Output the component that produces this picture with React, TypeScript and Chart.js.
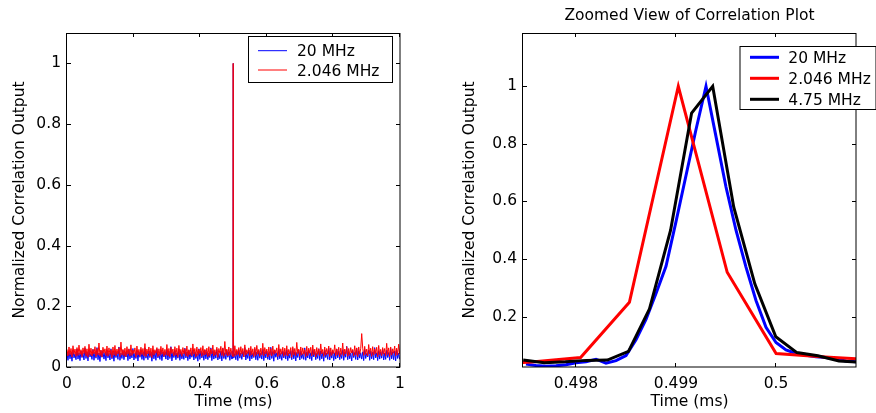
import { useEffect, useRef } from "react";
import { Chart, registerables } from "chart.js";

Chart.register(...registerables);

const FONT_FAMILY = "'DejaVu Sans', sans-serif";
const FONT_SIZE = 15.5;

// ---------- Labels ----------
const LABEL_20 = "20 MHz";
const LABEL_2046 = "2.046 MHz";
const LABEL_475 = "4.75 MHz";
const X_TITLE = "Time (ms)";
const Y_TITLE = "Normalized Correlation Output";
const RIGHT_TITLE = "Zoomed View of Correlation Plot";

// ---------- Axis ticks / ranges ----------
const LEFT_X_TICKS = [0, 0.2, 0.4, 0.6, 0.8, 1];
const LEFT_Y_TICKS = [0, 0.2, 0.4, 0.6, 0.8, 1];
const LEFT_X_RANGE = [0, 1];
const LEFT_Y_RANGE = [0, 1.1];
const RIGHT_X_TICKS = [0.498, 0.499, 0.5];
const RIGHT_Y_TICKS = [0.2, 0.4, 0.6, 0.8, 1];
const RIGHT_X_RANGE = [0.49747, 0.5008];
const RIGHT_Y_RANGE = [0.025, 1.185];

// ---------- Zoomed peak data (ms, normalized) ----------
const BLUE_ZOOM_T = [
  0.4975, 0.4976, 0.4977, 0.4978, 0.4979, 0.498, 0.4981, 0.4982, 0.4983, 0.4984,
  0.4985, 0.4986, 0.4987, 0.4988, 0.4989, 0.499, 0.4991, 0.4992, 0.4993, 0.4994,
  0.4995, 0.4996, 0.4997, 0.4998, 0.4999, 0.5, 0.5001, 0.5002, 0.5003, 0.5004,
  0.5005, 0.5006, 0.5007, 0.5008,
];
const BLUE_ZOOM_V = [
  0.035, 0.03, 0.028, 0.029, 0.033, 0.04, 0.043, 0.052, 0.038, 0.047,
  0.065, 0.12, 0.19, 0.28, 0.375, 0.53, 0.69, 0.85, 1.0, 0.825,
  0.65, 0.5, 0.372, 0.256, 0.163, 0.11, 0.084, 0.072, 0.066, 0.061,
  0.058, 0.052, 0.046, 0.043,
];

const RED_ZOOM_T = [0.497068, 0.497557, 0.498046, 0.498534, 0.499023, 0.499512, 0.500001, 0.50049, 0.500978];
const RED_ZOOM_V = [0.035, 0.042, 0.058, 0.25, 1.0, 0.354, 0.072, 0.06, 0.05];

const BLACK_ZOOM_T = [
  0.497472, 0.497683, 0.497893, 0.498104, 0.498314, 0.498525, 0.498735, 0.498946, 0.499156,
  0.499367, 0.499577, 0.499788, 0.499998, 0.500209, 0.500419, 0.50063, 0.50084,
];
const BLACK_ZOOM_V = [
  0.049, 0.04, 0.043, 0.048, 0.049, 0.079, 0.227, 0.5, 0.907,
  1.0, 0.581, 0.314, 0.13, 0.075, 0.064, 0.046, 0.041,
];

// ---------- Full-range noise floor (sampled every 0.003 ms) ----------
const NOISE_T_START = 0;
const NOISE_T_STEP = 0.003;
const RED_NOISE_V = [
  0.058, 0.036, 0.066, 0.04, 0.061, 0.033, 0.07, 0.042, 0.059, 0.035, 0.064, 0.038, 0.072, 0.041, 0.057, 0.034, 0.063, 0.044, 0.068, 0.037,
  0.06, 0.032, 0.075, 0.039, 0.062, 0.036, 0.058, 0.043, 0.067, 0.034, 0.061, 0.04, 0.079, 0.037, 0.056, 0.033, 0.065, 0.045, 0.06, 0.038,
  0.069, 0.035, 0.063, 0.041, 0.057, 0.031, 0.066, 0.039, 0.071, 0.036, 0.059, 0.043, 0.064, 0.034, 0.082, 0.04, 0.058, 0.037, 0.062, 0.033,
  0.067, 0.042, 0.06, 0.036, 0.073, 0.038, 0.056, 0.044, 0.063, 0.032, 0.069, 0.04, 0.058, 0.035, 0.065, 0.041, 0.061, 0.037, 0.077, 0.034,
  0.059, 0.043, 0.066, 0.036, 0.062, 0.031, 0.07, 0.039, 0.057, 0.045, 0.064, 0.034, 0.06, 0.038, 0.068, 0.042, 0.063, 0.035, 0.058, 0.04,
  0.074, 0.037, 0.061, 0.033, 0.065, 0.044, 0.059, 0.036, 0.067, 0.039, 0.062, 0.032, 0.071, 0.041, 0.058, 0.035, 0.064, 0.043, 0.06, 0.037,
  0.069, 0.034, 0.057, 0.04, 0.063, 0.036, 0.076, 0.042, 0.061, 0.033, 0.066, 0.038, 0.059, 0.044, 0.064, 0.035, 0.07, 0.039, 0.058, 0.041,
  0.062, 0.034, 0.067, 0.037, 0.06, 0.043, 0.072, 0.036, 0.057, 0.04, 0.065, 0.032, 0.061, 0.045, 0.068, 0.038, 0.063, 0.035, 0.084, 0.041,
  0.059, 0.036, 0.066, 0.039, 0.062, 0.043, 0.06, 0.034, 0.07, 0.038, 0.058, 0.041, 0.064, 0.035, 0.067, 0.042, 0.061, 0.033, 0.073, 0.039,
  0.057, 0.044, 0.063, 0.036, 0.068, 0.04, 0.06, 0.034, 0.065, 0.038, 0.071, 0.042, 0.058, 0.035, 0.062, 0.04, 0.078, 0.037, 0.064, 0.043,
  0.059, 0.033, 0.066, 0.039, 0.061, 0.036, 0.069, 0.041, 0.057, 0.045, 0.063, 0.034, 0.074, 0.038, 0.06, 0.042, 0.065, 0.035, 0.062, 0.039,
  0.07, 0.036, 0.058, 0.043, 0.064, 0.032, 0.067, 0.04, 0.061, 0.037, 0.081, 0.044, 0.059, 0.035, 0.066, 0.039, 0.063, 0.042, 0.057, 0.034,
  0.068, 0.038, 0.062, 0.045, 0.065, 0.036, 0.072, 0.04, 0.059, 0.033, 0.064, 0.041, 0.06, 0.037, 0.076, 0.043, 0.058, 0.035, 0.066, 0.039,
  0.061, 0.042, 0.069, 0.034, 0.063, 0.038, 0.057, 0.044, 0.073, 0.036, 0.06, 0.04, 0.065, 0.033, 0.062, 0.041, 0.079, 0.037, 0.059, 0.043,
  0.067, 0.035, 0.061, 0.039, 0.064, 0.046, 0.058, 0.036, 0.07, 0.04, 0.063, 0.034, 0.066, 0.042, 0.06, 0.11, 0.062, 0.038, 0.068, 0.041,
  0.059, 0.036, 0.074, 0.043, 0.062, 0.035, 0.067, 0.039, 0.06, 0.044, 0.065, 0.033, 0.071, 0.04, 0.058, 0.037, 0.064, 0.042, 0.061, 0.036,
  0.078, 0.041, 0.063, 0.034, 0.066, 0.039, 0.06, 0.045, 0.069, 0.037, 0.062, 0.04, 0.075, 0.043,
];
const BLUE_NOISE_V = [
  0.045, 0.022, 0.052, 0.027, 0.048, 0.019, 0.056, 0.03, 0.043, 0.024, 0.059, 0.026, 0.047, 0.021, 0.053, 0.031, 0.046, 0.023, 0.062, 0.028,
  0.05, 0.02, 0.055, 0.033, 0.044, 0.025, 0.058, 0.022, 0.049, 0.029, 0.064, 0.024, 0.046, 0.018, 0.054, 0.032, 0.051, 0.026, 0.047, 0.021,
  0.057, 0.03, 0.045, 0.023, 0.06, 0.027, 0.05, 0.019, 0.053, 0.031, 0.048, 0.025, 0.066, 0.022, 0.046, 0.028, 0.055, 0.024, 0.049, 0.033,
  0.052, 0.021, 0.058, 0.026, 0.047, 0.03, 0.061, 0.023, 0.045, 0.028, 0.054, 0.02, 0.05, 0.032, 0.057, 0.025, 0.048, 0.022, 0.063, 0.029,
  0.046, 0.024, 0.053, 0.031, 0.049, 0.019, 0.056, 0.027, 0.051, 0.022, 0.06, 0.03, 0.044, 0.025, 0.055, 0.021, 0.05, 0.033, 0.047, 0.026,
  0.058, 0.023, 0.052, 0.028, 0.067, 0.02, 0.048, 0.031, 0.054, 0.024, 0.046, 0.029, 0.059, 0.022, 0.051, 0.027, 0.045, 0.025, 0.062, 0.03,
  0.049, 0.021, 0.055, 0.026, 0.047, 0.032, 0.057, 0.023, 0.05, 0.028, 0.044, 0.019, 0.06, 0.025, 0.053, 0.03, 0.048, 0.022, 0.056, 0.027,
  0.051, 0.024, 0.046, 0.031, 0.063, 0.021, 0.054, 0.026, 0.049, 0.029, 0.058, 0.023, 0.045, 0.027, 0.052, 0.02, 0.061, 0.028, 0.047, 0.025,
  0.055, 0.032, 0.05, 0.022, 0.048, 0.026, 0.059, 0.03, 0.044, 0.024, 0.053, 0.021, 0.057, 0.029, 0.046, 0.025, 0.051, 0.033, 0.064, 0.023,
  0.047, 0.028, 0.056, 0.02, 0.052, 0.027, 0.045, 0.031, 0.06, 0.024, 0.049, 0.022, 0.054, 0.029, 0.046, 0.026, 0.058, 0.021, 0.05, 0.03,
  0.053, 0.025, 0.048, 0.023, 0.065, 0.028, 0.051, 0.019, 0.055, 0.032, 0.047, 0.024, 0.059, 0.027, 0.045, 0.022, 0.052, 0.03, 0.049, 0.026,
  0.057, 0.021, 0.046, 0.029, 0.054, 0.024, 0.061, 0.027, 0.05, 0.02, 0.048, 0.031, 0.056, 0.023, 0.052, 0.028, 0.044, 0.025, 0.063, 0.022,
  0.049, 0.03, 0.055, 0.026, 0.047, 0.021, 0.058, 0.033, 0.051, 0.024, 0.045, 0.028, 0.06, 0.022, 0.053, 0.027, 0.048, 0.019, 0.056, 0.031,
  0.046, 0.025, 0.062, 0.023, 0.05, 0.029, 0.054, 0.021, 0.047, 0.026, 0.059, 0.03, 0.052, 0.024, 0.045, 0.028, 0.057, 0.022, 0.049, 0.032,
  0.068, 0.024, 0.051, 0.027, 0.046, 0.02, 0.055, 0.031, 0.048, 0.025, 0.061, 0.023, 0.053, 0.029, 0.047, 0.026, 0.05, 0.021, 0.058, 0.028,
  0.045, 0.033, 0.056, 0.022, 0.052, 0.027, 0.049, 0.024, 0.064, 0.03, 0.047, 0.021, 0.054, 0.026, 0.05, 0.029, 0.059, 0.023, 0.046, 0.025,
  0.055, 0.031, 0.048, 0.022, 0.061, 0.027, 0.05, 0.024, 0.053, 0.02, 0.057, 0.028, 0.046, 0.025,
];

// ---------- Colours ----------
const BLUE = "#0000ff";
const RED = "#ff0000";
const BLACK = "#000000";

type Pt = { x: number; y: number };

function zip(t: number[], v: number[]): Pt[] {
  return t.map((x, i) => ({ x, y: v[i] }));
}

function fullSeries(noise: number[], zt: number[], zv: number[]): Pt[] {
  const lo = zt[0];
  const hi = zt[zt.length - 1];
  const noisePts = noise.map((y, i) => ({ x: NOISE_T_START + i * NOISE_T_STEP, y }));
  return [
    ...noisePts.filter((p) => p.x < lo),
    ...zip(zt, zv),
    ...noisePts.filter((p) => p.x > hi),
  ];
}

const fmt = (v: number) => String(+Number(v).toFixed(4));
const font = (size = FONT_SIZE) => `${size}px ${FONT_FAMILY}`;

// Plugin: MATLAB-style frame, inward ticks, in-axes legend and title
const matlabPlugin = {
  id: "matlab",
  afterDatasetsDraw(chart: any, _args: any, opts: any) {
    const { ctx, chartArea } = chart;
    const { left, right, top, bottom } = chartArea;
    const xs = chart.scales.x;
    const ys = chart.scales.y;
    ctx.save();
    ctx.strokeStyle = "#000";
    ctx.lineWidth = 1;
    ctx.setLineDash([]);
    ctx.strokeRect(left - 0.5, top + 0.5, right - left + 0.5, bottom - top - 0.5);
    const tl = 4;
    ctx.beginPath();
    xs.ticks.forEach((t: any) => {
      const px = Math.round(xs.getPixelForValue(t.value)) - 0.5;
      ctx.moveTo(px, bottom);
      ctx.lineTo(px, bottom - tl);
      ctx.moveTo(px, top);
      ctx.lineTo(px, top + tl);
    });
    ys.ticks.forEach((t: any) => {
      const py = Math.round(ys.getPixelForValue(t.value)) + 0.5;
      ctx.moveTo(left, py);
      ctx.lineTo(left + tl, py);
      ctx.moveTo(right, py);
      ctx.lineTo(right - tl, py);
    });
    ctx.stroke();

    if (opts.title) {
      ctx.fillStyle = "#000";
      ctx.font = font();
      ctx.textAlign = "center";
      ctx.textBaseline = "alphabetic";
      ctx.fillText(opts.title, (left + right) / 2, opts.titleY);
    }

    const lg = opts.legend;
    if (lg) {
      const ds = chart.data.datasets;
      ctx.fillStyle = "#fff";
      ctx.fillRect(lg.x, lg.y, lg.w, lg.h);
      ctx.strokeStyle = "#000";
      ctx.lineWidth = 1;
      ctx.strokeRect(lg.x + 0.5, lg.y + 0.5, lg.w, lg.h);
      ctx.font = font();
      ctx.textAlign = "left";
      ctx.textBaseline = "alphabetic";
      ds.forEach((d: any, i: number) => {
        const ry = lg.y + lg.firstRow + i * lg.rowH;
        ctx.strokeStyle = d.borderColor;
        ctx.lineWidth = d.borderWidth;
        ctx.beginPath();
        ctx.moveTo(lg.x + lg.lineX0, ry);
        ctx.lineTo(lg.x + lg.lineX0 + lg.lineLen, ry);
        ctx.stroke();
        ctx.fillStyle = "#000";
        ctx.fillText(d.label, lg.x + lg.textX, ry + 5.5);
      });
    }
    ctx.restore();
  },
};

function makeOptions(
  xr: number[], yr: number[], xt: number[], yt: number[],
  yAxisW: number, padRight: number, yTitlePad: number, plug: any
): any {
  return {
    responsive: false,
    maintainAspectRatio: false,
    animation: false,
    events: [],
    layout: { padding: { top: 33, right: padRight, left: 0, bottom: 0 } },
    plugins: {
      legend: { display: false },
      tooltip: { enabled: false },
      title: { display: false },
      matlab: plug,
    },
    elements: { point: { radius: 0 }, line: { tension: 0 } },
    scales: {
      x: {
        type: "linear",
        min: xr[0],
        max: xr[1],
        afterBuildTicks: (s: any) => { s.ticks = xt.map((value) => ({ value })); },
        afterFit: (s: any) => { s.height = 46; },
        grid: { display: false, drawTicks: false },
        border: { display: false },
        ticks: { padding: 7.5, color: "#000", font: { family: FONT_FAMILY, size: FONT_SIZE }, autoSkip: false, maxRotation: 0, callback: (v: number) => fmt(v) },
        title: { display: true, text: X_TITLE, color: "#000", font: { family: FONT_FAMILY, size: FONT_SIZE }, padding: { top: 0, bottom: 1.5 } },
      },
      y: {
        type: "linear",
        min: yr[0],
        max: yr[1],
        afterBuildTicks: (s: any) => { s.ticks = yt.map((value) => ({ value })); },
        afterFit: (s: any) => { s.width = yAxisW; },
        grid: { display: false, drawTicks: false },
        border: { display: false },
        ticks: { padding: 6, color: "#000", font: { family: FONT_FAMILY, size: FONT_SIZE }, callback: (v: number) => fmt(v) },
        title: { display: true, text: Y_TITLE, color: "#000", font: { family: FONT_FAMILY, size: FONT_SIZE }, padding: { top: yTitlePad, bottom: 0 } },
      },
    },
  };
}

function ChartBox({ config, left, width }: { config: any; left: number; width: number }) {
  const ref = useRef<HTMLCanvasElement>(null);
  useEffect(() => {
    const chart = new Chart(ref.current as HTMLCanvasElement, config);
    return () => chart.destroy();
  }, []);
  return (
    <canvas
      ref={ref}
      width={width}
      height={413}
      style={{ position: "absolute", left, top: 0, width, height: 413 }}
    />
  );
}

// solid "dash" pattern so every sample is stroked individually (no per-pixel min/max shortcut)
const SOLID_FULL_PATH = [4000, 0];

export default function App() {
  const leftConfig = {
    type: "line",
    data: {
      datasets: [
        { label: LABEL_20, data: fullSeries(BLUE_NOISE_V, BLUE_ZOOM_T, BLUE_ZOOM_V), borderColor: BLUE, borderWidth: 1, borderDash: SOLID_FULL_PATH, order: 1, clip: 0, pointRadius: 0 },
        { label: LABEL_2046, data: fullSeries(RED_NOISE_V, RED_ZOOM_T, RED_ZOOM_V), borderColor: RED, borderWidth: 1, borderDash: SOLID_FULL_PATH, order: 0, clip: 0, pointRadius: 0 },
      ],
    },
    options: makeOptions(LEFT_X_RANGE, LEFT_Y_RANGE, LEFT_X_TICKS, LEFT_Y_TICKS, 67, 38, 11, {
      legend: { x: 248, y: 36, w: 144, h: 46, firstRow: 14.7, rowH: 19.3, lineX0: 10, lineLen: 29, textX: 49 },
    }),
    plugins: [matlabPlugin],
  };
  const rightConfig = {
    type: "line",
    data: {
      datasets: [
        { label: LABEL_20, data: zip(BLUE_ZOOM_T, BLUE_ZOOM_V), borderColor: BLUE, borderWidth: 3, order: 2, clip: 0, pointRadius: 0 },
        { label: LABEL_2046, data: zip(RED_ZOOM_T, RED_ZOOM_V), borderColor: RED, borderWidth: 3, order: 1, clip: 0, pointRadius: 0 },
        { label: LABEL_475, data: zip(BLACK_ZOOM_T, BLACK_ZOOM_V), borderColor: BLACK, borderWidth: 3, order: 0, clip: 0, pointRadius: 0 },
      ],
    },
    options: makeOptions(RIGHT_X_RANGE, RIGHT_Y_RANGE, RIGHT_X_TICKS, RIGHT_Y_TICKS, 73, 20, 10.5, {
      title: RIGHT_TITLE,
      titleY: 20,
      legend: { x: 289.5, y: 46, w: 136, h: 63, firstRow: 11.3, rowH: 21, lineX0: 10.5, lineLen: 29, textX: 48.8 },
    }),
    plugins: [matlabPlugin],
  };
  return (
    <div style={{ position: "absolute", left: 0, top: 0, width: 876, height: 413, background: "#fff", overflow: "hidden" }}>
      <ChartBox config={leftConfig} left={0} width={438} />
      <ChartBox config={rightConfig} left={450} width={426} />
    </div>
  );
}
